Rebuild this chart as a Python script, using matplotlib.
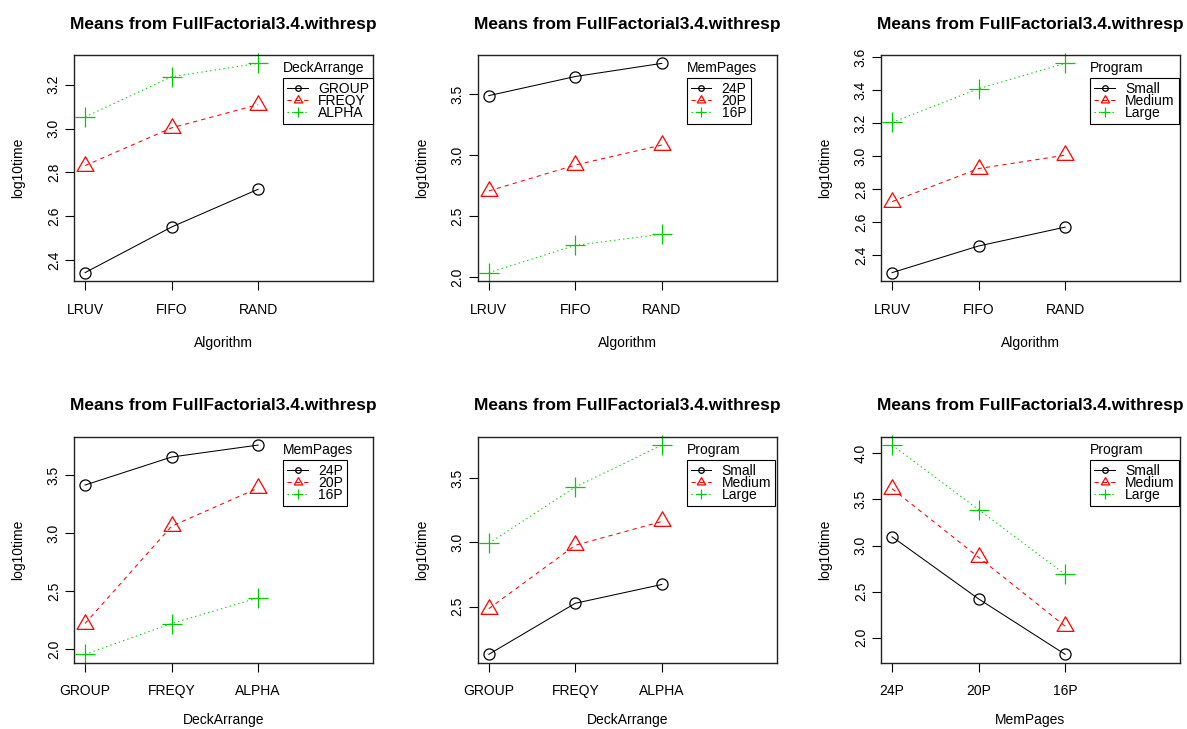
import matplotlib
matplotlib.use("Agg")
import matplotlib.pyplot as plt
from matplotlib.ticker import MultipleLocator, FormatStrFormatter
from matplotlib.path import Path
import numpy as np

plt.rcParams['font.family'] = ['Liberation Sans', 'DejaVu Sans']

# ---------------- data ----------------
title_text = "Means from FullFactorial3.4.withresp"
y_label = "log10time"

algorithm_levels = ["LRUV", "FIFO", "RAND"]
deck_levels = ["GROUP", "FREQY", "ALPHA"]
mem_levels = ["24P", "20P", "16P"]
program_levels = ["Small", "Medium", "Large"]

# Panel 1: Algorithm x DeckArrange
group_by_alg = [2.343, 2.551, 2.723]
freqy_by_alg = [2.831, 3.003, 3.109]
alpha_by_alg = [3.053, 3.236, 3.297]

# Panel 2: Algorithm x MemPages
p24_by_alg = [3.490, 3.647, 3.755]
p20_by_alg = [2.707, 2.920, 3.084]
p16_by_alg = [2.036, 2.260, 2.352]

# Panel 3: Algorithm x Program
small_by_alg = [2.296, 2.457, 2.571]
medium_by_alg = [2.725, 2.925, 3.006]
large_by_alg = [3.204, 3.408, 3.561]

# Panel 4: DeckArrange x MemPages
p24_by_deck = [3.414, 3.655, 3.758]
p20_by_deck = [2.222, 3.060, 3.388]
p16_by_deck = [1.957, 2.222, 2.443]

# Panel 5: DeckArrange x Program
small_by_deck = [2.129, 2.526, 2.672]
medium_by_deck = [2.484, 2.977, 3.162]
large_by_deck = [2.992, 3.430, 3.756]

# Panel 6: MemPages x Program
small_by_mem = [3.095, 2.420, 1.818]
medium_by_mem = [3.617, 2.872, 2.124]
large_by_mem = [4.091, 3.390, 2.686]

y_steps = [0.2, 0.5, 0.2, 0.5, 0.5, 0.5]

panels = [
    (algorithm_levels, "Algorithm", "DeckArrange", deck_levels,
     [group_by_alg, freqy_by_alg, alpha_by_alg]),
    (algorithm_levels, "Algorithm", "MemPages", mem_levels,
     [p24_by_alg, p20_by_alg, p16_by_alg]),
    (algorithm_levels, "Algorithm", "Program", program_levels,
     [small_by_alg, medium_by_alg, large_by_alg]),
    (deck_levels, "DeckArrange", "MemPages", mem_levels,
     [p24_by_deck, p20_by_deck, p16_by_deck]),
    (deck_levels, "DeckArrange", "Program", program_levels,
     [small_by_deck, medium_by_deck, large_by_deck]),
    (mem_levels, "MemPages", "Program", program_levels,
     [small_by_mem, medium_by_mem, large_by_mem]),
]

# ---------------- layout / style ----------------
W, H = 1187, 729
fig = plt.figure(figsize=(W / 100, H / 100), dpi=100)
fig.patch.set_facecolor('white')

COL_LEFT = [74, 477.7, 881]
ROW_TOP = [55, 436.7]
XLABEL_OFF = [62, 57]
AX_W, AX_H = 299, 226

tri = Path([(0, 1), (-0.866, -0.5), (0.866, -0.5), (0, 1)], closed=True)
styles = [
    dict(color='black', linestyle='-', marker='o', ms=8.0, mfc='none', mew=0.9),
    dict(color='#FF0000', linestyle=(0, (4, 4)), marker=tri, ms=14.0, mfc='none', mew=0.9),
    dict(color='#00CD00', linestyle=(0, (1.3, 3)), marker='+', ms=14.4, mew=0.9),
]

FS = 10

for i, (xlev, xlabel, trace_label, trace_levels, series) in enumerate(panels):
    r, c = divmod(i, 3)
    left = COL_LEFT[c]
    top = ROW_TOP[r]
    ax = fig.add_axes([left / W, 1 - (top + AX_H) / H, AX_W / W, AX_H / H])
    x = np.arange(1, len(xlev) + 1)
    for vals, lab, st in zip(series, trace_levels, styles):
        ax.plot(x, vals, label=lab, lw=0.75, clip_on=False, **st)
    allv = np.concatenate([np.asarray(s) for s in series])
    lo, hi = allv.min(), allv.max()
    pad = 0.04 * (hi - lo)
    ax.set_ylim(lo - pad, hi + pad)
    ax.set_xlim(0.872, 4.328)
    ax.set_xticks(x)
    ax.set_xticklabels(xlev)
    ax.yaxis.set_major_locator(MultipleLocator(y_steps[i]))
    ax.yaxis.set_major_formatter(FormatStrFormatter('%.1f'))
    ax.tick_params(direction='out', length=6.5, width=0.8, labelsize=FS, color='black')
    ax.tick_params(axis='x', pad=9)
    ax.tick_params(axis='y', pad=3)
    for lbl in ax.get_yticklabels():
        lbl.set_rotation(90)
        lbl.set_va('center')
    for sp in ax.spines.values():
        sp.set_linewidth(1.0)
        sp.set_color('#222222')

    ax.set_xlabel(xlabel, fontsize=FS)
    ax.xaxis.label.set_va('center')
    ax.xaxis.set_label_coords(0.5, -XLABEL_OFF[r] / AX_H)
    ax.set_ylabel(y_label, fontsize=FS)
    ax.yaxis.label.set_va('center')
    ax.yaxis.set_label_coords(-56 / AX_W, 0.5)

    ax.set_title(title_text, fontsize=12.5, fontweight='bold', y=1 + 31 / AX_H,
                 pad=0, va='center')

    leg = ax.legend(loc='upper left', bbox_to_anchor=(0.70, 1 - 23 / AX_H),
                    borderaxespad=0, frameon=True, fancybox=False,
                    edgecolor='black', framealpha=1, fontsize=FS,
                    handlelength=1.45, handletextpad=0.75, borderpad=0.3,
                    labelspacing=-0.15, markerscale=0.5)
    leg.get_frame().set_linewidth(0.8)
    ax.text(0.70, 1 - 13.3 / AX_H, trace_label, transform=ax.transAxes,
            ha='left', va='center', fontsize=FS)

fig.savefig("out.png", dpi=100)
